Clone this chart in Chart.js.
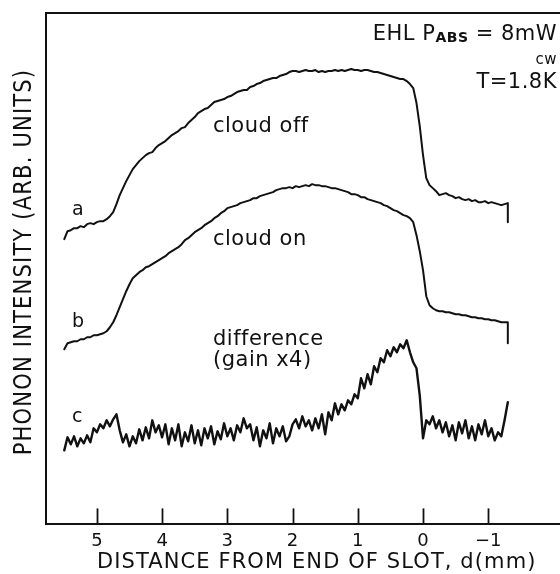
<!DOCTYPE html>
<html>
<head>
<meta charset="utf-8">
<script src="https://cdn.jsdelivr.net/npm/chart.js@4.4.1/dist/chart.umd.min.js"></script>
<style>
  html, body { margin: 0; padding: 0; background: #fff; }
  #phononChart { display: block; }
</style>
</head>
<body>
<canvas id="phononChart" width="560" height="574"></canvas>
<script>
// distance from end of slot d (mm), common sampling for the three traces
const distance = [
  5.50, 5.45, 5.40, 5.35, 5.30, 5.25, 5.20, 5.15, 5.10, 5.05,
  5.00, 4.95, 4.90, 4.85, 4.80, 4.75, 4.70, 4.65, 4.60, 4.55,
  4.50, 4.45, 4.40, 4.35, 4.30, 4.25, 4.20, 4.15, 4.10, 4.05,
  4.00, 3.95, 3.90, 3.85, 3.80, 3.75, 3.70, 3.65, 3.60, 3.55,
  3.50, 3.45, 3.40, 3.35, 3.30, 3.25, 3.20, 3.15, 3.10, 3.05,
  3.00, 2.95, 2.90, 2.85, 2.80, 2.75, 2.70, 2.65, 2.60, 2.55,
  2.50, 2.45, 2.40, 2.35, 2.30, 2.25, 2.20, 2.15, 2.10, 2.05,
  2.00, 1.95, 1.90, 1.85, 1.80, 1.75, 1.70, 1.65, 1.60, 1.55,
  1.50, 1.45, 1.40, 1.35, 1.30, 1.25, 1.20, 1.15, 1.10, 1.05,
  1.00, 0.95, 0.90, 0.85, 0.80, 0.75, 0.70, 0.65, 0.60, 0.55,
  0.50, 0.45, 0.40, 0.35, 0.30, 0.25, 0.20, 0.15, 0.10, 0.05,
  0.00, -0.05, -0.10, -0.15, -0.20, -0.25, -0.30, -0.35, -0.40, -0.45,
  -0.50, -0.55, -0.60, -0.65, -0.70, -0.75, -0.80, -0.85, -0.90, -0.95,
  -1.00, -1.05, -1.10, -1.15, -1.20, -1.25, -1.30
];

// trace a: cloud off
const cloudOff = [
  28.5, 29.3, 29.4, 29.6, 29.6, 29.8, 29.7, 30.0, 30.1, 30.0,
  30.2, 30.3, 30.3, 30.5, 30.8, 31.2, 32.0, 32.9, 33.6, 34.3,
  34.9, 35.5, 35.9, 36.3, 36.6, 36.9, 37.1, 37.2, 37.6, 37.9,
  38.1, 38.3, 38.6, 38.9, 39.1, 39.3, 39.6, 39.7, 40.1, 40.4,
  40.7, 41.1, 41.3, 41.5, 41.6, 41.9, 42.2, 42.3, 42.4, 42.5,
  42.7, 42.8, 43.0, 43.2, 43.3, 43.4, 43.4, 43.7, 43.8, 44.0,
  44.1, 44.3, 44.4, 44.5, 44.6, 44.6, 44.8, 44.9, 45.0, 45.2,
  45.3, 45.3, 45.2, 45.3, 45.4, 45.3, 45.3, 45.4, 45.2, 45.3,
  45.2, 45.3, 45.3, 45.4, 45.3, 45.4, 45.3, 45.4, 45.5, 45.4,
  45.4, 45.3, 45.4, 45.4, 45.3, 45.2, 45.2, 45.1, 45.0, 44.9,
  44.8, 44.7, 44.6, 44.5, 44.5, 44.3, 44.0, 43.6, 42.1, 39.8,
  36.9, 34.6, 33.9, 33.6, 33.3, 32.9, 33.0, 33.1, 32.9, 32.8,
  32.6, 32.7, 32.5, 32.4, 32.5, 32.3, 32.4, 32.2, 32.2, 32.3,
  32.1, 32.2, 32.1, 32.0, 31.9, 32.0, 32.1
];
const cloudOffEnd = 30.2;

// trace b: cloud on
const cloudOn = [
  17.5, 18.1, 18.2, 18.3, 18.3, 18.5, 18.5, 18.7, 18.7, 18.9,
  18.9, 19.0, 19.1, 19.3, 19.7, 20.2, 20.9, 21.7, 22.5, 23.3,
  24.0, 24.6, 24.9, 25.2, 25.4, 25.7, 25.8, 26.0, 26.2, 26.4,
  26.6, 26.8, 27.1, 27.3, 27.5, 27.7, 28.0, 28.4, 28.6, 28.9,
  29.2, 29.4, 29.6, 29.9, 30.1, 30.3, 30.6, 30.8, 31.1, 31.3,
  31.6, 31.7, 31.8, 31.9, 32.1, 32.2, 32.3, 32.4, 32.6, 32.6,
  32.8, 32.9, 33.0, 33.1, 33.2, 33.4, 33.5, 33.6, 33.6, 33.7,
  33.6, 33.8, 33.7, 33.8, 33.9, 33.8, 34.0, 33.9, 33.9, 33.8,
  33.8, 33.7, 33.6, 33.6, 33.5, 33.4, 33.3, 33.2, 33.0, 33.0,
  32.9, 32.7, 32.7, 32.5, 32.4, 32.3, 32.2, 32.1, 31.9, 31.8,
  31.6, 31.4, 31.3, 31.1, 30.9, 30.8, 30.6, 30.2, 28.9, 27.3,
  25.4, 22.8, 21.9, 21.6, 21.4, 21.3, 21.3, 21.2, 21.2, 21.1,
  21.0, 21.0, 20.9, 20.9, 20.8, 20.7, 20.7, 20.6, 20.6, 20.5,
  20.5, 20.4, 20.4, 20.3, 20.2, 20.2, 20.2
];
const cloudOnEnd = 18.1;

// trace c: difference (gain x4)
const difference = [
  7.4, 8.7, 8.0, 8.8, 7.8, 8.6, 8.1, 8.9, 8.2, 9.6,
  9.2, 10.0, 9.6, 10.4, 9.8, 10.5, 11.0, 9.4, 8.2, 9.0,
  7.8, 8.8, 8.1, 9.5, 8.4, 9.7, 8.6, 10.4, 9.2, 9.9,
  8.7, 10.0, 8.0, 9.6, 8.4, 10.0, 7.8, 9.2, 8.3, 9.9,
  8.1, 9.4, 7.9, 9.6, 8.6, 9.8, 8.0, 9.3, 8.5, 10.1,
  8.8, 9.6, 8.4, 9.9, 9.2, 10.6, 9.6, 10.0, 8.4, 9.7,
  7.8, 9.4, 8.6, 10.1, 8.1, 9.6, 8.8, 9.8, 8.3, 8.8,
  10.0, 10.5, 9.6, 10.8, 9.8, 10.4, 9.4, 10.6, 9.6, 11.0,
  9.0, 11.2, 10.4, 12.1, 11.0, 12.0, 11.4, 12.4, 12.0, 13.0,
  12.6, 14.6, 13.6, 15.0, 14.0, 15.8, 15.2, 16.6, 16.2, 17.4,
  16.8, 17.7, 17.2, 18.0, 17.6, 18.4, 17.2, 16.2, 15.6, 12.9,
  8.6, 10.4, 10.0, 10.8, 9.6, 10.4, 9.2, 10.2, 8.8, 9.9,
  8.4, 10.2, 9.1, 10.4, 8.6, 9.8, 8.4, 10.0, 9.0, 10.4,
  8.8, 9.6, 8.4, 9.2, 8.8, 10.4, 12.2
];

const tickValues = [5, 4, 3, 2, 1, 0, -1];
const tickLabels = ['5', '4', '3', '2', '1', '0', '\u22121'];

const ink = '#111';
const font = '"DejaVu Sans", sans-serif';

function toPoints(ys, endY) {
  const pts = distance.map((d, i) => ({ x: d, y: ys[i] }));
  if (endY !== undefined) pts.push({ x: distance[distance.length - 1], y: endY });
  return pts;
}

// labels on the traces, placed in data coordinates
const traceNotes = [
  { text: 'cloud off', x: 3.22, y: 39.2, size: 21 },
  { text: 'cloud on', x: 3.22, y: 27.9, size: 21 },
  { text: 'difference', x: 3.22, y: 17.9, size: 21 },
  { text: '(gain x4)', x: 3.22, y: 15.8, size: 21 },
  { text: 'a', x: 5.38, y: 30.9, size: 19 },
  { text: 'b', x: 5.38, y: 19.7, size: 19 },
  { text: 'c', x: 5.38, y: 10.2, size: 19 }
];

const decorPlugin = {
  id: 'decor',
  afterDraw(chart) {
    const ctx = chart.ctx;
    const area = chart.chartArea;
    const xs = chart.scales.x;
    const ys = chart.scales.y;
    ctx.save();
    ctx.strokeStyle = ink;
    ctx.fillStyle = ink;

    // top frame line
    ctx.lineWidth = 2;
    ctx.beginPath();
    ctx.moveTo(area.left - 1, area.top);
    ctx.lineTo(chart.width, area.top);
    ctx.stroke();

    // inward tick marks
    ctx.lineWidth = 1.8;
    tickValues.forEach(v => {
      const px = Math.round(xs.getPixelForValue(v)) + 0.5;
      ctx.beginPath();
      ctx.moveTo(px, area.bottom);
      ctx.lineTo(px, area.bottom - 16);
      ctx.stroke();
    });

    ctx.textBaseline = 'alphabetic';
    ctx.textAlign = 'left';
    ctx.letterSpacing = '0.5px';
    traceNotes.forEach(n => {
      ctx.font = n.size + 'px ' + font;
      ctx.fillText(n.text, xs.getPixelForValue(n.x), ys.getPixelForValue(n.y));
    });

    // x axis title
    ctx.font = '21px ' + font;
    ctx.letterSpacing = '1.1px';
    ctx.fillText('DISTANCE FROM END OF SLOT, d(mm)', 97, 568);

    // y axis title (tall, narrow lettering)
    ctx.save();
    ctx.translate(24, 262);
    ctx.rotate(-Math.PI / 2);
    ctx.scale(1, 1.2);
    ctx.font = '21px ' + font;
    ctx.letterSpacing = '1.2px';
    ctx.textAlign = 'center';
    ctx.textBaseline = 'middle';
    ctx.fillText('PHONON INTENSITY (ARB. UNITS)', 0, 0);
    ctx.restore();

    // conditions, top right
    const right = 557;
    ctx.letterSpacing = '0.5px';
    ctx.textAlign = 'left';
    ctx.font = '21px ' + font;
    const partA = 'EHL P';
    const partC = ' = 8mW';
    const wA = ctx.measureText(partA).width;
    const wC = ctx.measureText(partC).width;
    ctx.font = 'bold 14px ' + font;
    const wB = ctx.measureText('ABS').width;
    let x0 = right - (wA + wB + wC);
    ctx.font = '21px ' + font;
    ctx.fillText(partA, x0, 40);
    ctx.font = 'bold 14px ' + font;
    ctx.fillText('ABS', x0 + wA, 42);
    ctx.font = '21px ' + font;
    ctx.fillText(partC, x0 + wA + wB, 40);

    ctx.textAlign = 'right';
    ctx.font = '15px ' + font;
    ctx.fillText('cw', right, 64);
    ctx.font = '21px ' + font;
    ctx.fillText('T=1.8K', right, 88);

    ctx.restore();
  }
};

document.addEventListener('DOMContentLoaded', function () {
  const ctx = document.getElementById('phononChart').getContext('2d');

  const lineStyle = {
    borderColor: ink,
    borderWidth: 2,
    pointRadius: 0,
    tension: 0,
    fill: false,
    borderJoinStyle: 'round',
    borderCapStyle: 'round'
  };

  new Chart(ctx, {
    type: 'line',
    data: {
      datasets: [
        Object.assign({ label: 'cloud off', data: toPoints(cloudOff, cloudOffEnd) }, lineStyle),
        Object.assign({ label: 'cloud on', data: toPoints(cloudOn, cloudOnEnd) }, lineStyle),
        Object.assign({ label: 'difference (gain x4)', data: toPoints(difference) }, lineStyle, { borderWidth: 2.4 })
      ]
    },
    options: {
      responsive: false,
      animation: false,
      devicePixelRatio: 1,
      layout: { padding: { left: 46, top: 13, right: 0, bottom: 16 } },
      plugins: {
        legend: { display: false },
        tooltip: { enabled: false }
      },
      scales: {
        x: {
          type: 'linear',
          reverse: true,
          min: -2.1,
          max: 5.78,
          afterBuildTicks: scale => {
            scale.ticks = tickValues.map(v => ({ value: v }));
          },
          grid: { display: false, drawTicks: false },
          border: { display: true, color: ink, width: 2 },
          ticks: {
            color: ink,
            padding: 6,
            maxRotation: 0,
            autoSkip: false,
            font: { family: font, size: 18 },
            callback: (v, i) => tickLabels[i]
          }
        },
        y: {
          type: 'linear',
          min: 0,
          max: 51.1,
          grid: { display: false, drawTicks: false },
          border: { display: true, color: ink, width: 2 },
          ticks: { display: false }
        }
      }
    },
    plugins: [decorPlugin]
  });
});
</script>
</body>
</html>
